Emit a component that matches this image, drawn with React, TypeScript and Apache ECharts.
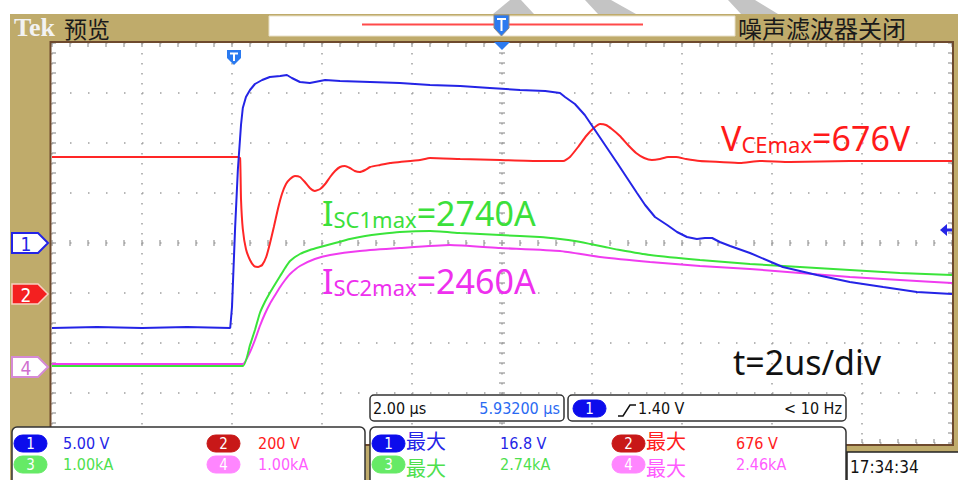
import React, { useEffect, useRef } from "react";
import * as echarts from "echarts";

// ---- data (time in µs, 2 µs/div; values in channel units) ----
const ch1Time = [0, 1, 2, 3, 3.96, 4.0, 4.07, 4.13, 4.2, 4.24, 4.31, 4.4, 4.51, 4.67, 4.84, 5.07, 5.22, 5.33, 5.51, 5.73, 6.07, 6.4, 7.07, 7.73, 8.4, 9.07, 9.73, 10.4, 10.96, 11.29, 11.4, 11.62, 11.84, 12.02, 12.29, 12.56, 12.78, 13.0, 13.18, 13.4, 13.67, 13.89, 14.11, 14.33, 14.51, 14.67, 14.84, 15.07, 15.51, 16.24, 17.0, 17.73, 18.47, 19.22, 20];
const ch1Volts = [-8.5, -8.4, -8.5, -8.4, -8.5, -6.4, 1.6, 7.3, 11.8, 13.5, 14.6, 15.3, 15.9, 16.3, 16.6, 16.7, 16.8, 16.5, 16.1, 16.0, 16.3, 16.2, 16.1, 16.0, 15.8, 15.7, 15.5, 15.3, 15.2, 15.0, 14.6, 13.9, 12.8, 11.6, 9.8, 8.0, 6.5, 5.0, 3.8, 2.6, 1.8, 1.1, 0.6, 0.4, 0.5, 0.5, 0.1, -0.3, -1.0, -2.4, -3.2, -3.9, -4.4, -4.9, -5.1];

const ch2Time = [0, 2, 4.13, 4.18, 4.2, 4.24, 4.31, 4.4, 4.49, 4.58, 4.67, 4.76, 4.84, 4.93, 5.02, 5.11, 5.2, 5.29, 5.4, 5.51, 5.62, 5.73, 5.84, 5.96, 6.07, 6.18, 6.29, 6.4, 6.51, 6.62, 6.73, 6.84, 6.96, 7.07, 7.29, 7.51, 7.73, 8.18, 8.4, 9.07, 9.96, 10.84, 11.36, 11.51, 11.69, 11.87, 12.04, 12.18, 12.31, 12.44, 12.62, 12.8, 12.98, 13.16, 13.33, 13.51, 13.69, 13.87, 14.09, 14.4, 14.84, 15.29, 15.73, 16.4, 17.73, 18.84, 20];
const ch2Volts = [544, 544, 544, 540, 376, 256, 176, 132, 108, 104, 112, 144, 196, 264, 336, 396, 436, 456, 468, 464, 444, 420, 408, 416, 436, 464, 488, 504, 508, 500, 488, 484, 492, 504, 512, 520, 524, 532, 540, 536, 532, 528, 528, 544, 584, 628, 660, 676, 672, 656, 628, 592, 560, 540, 532, 536, 544, 544, 536, 528, 524, 520, 528, 524, 528, 528, 528];

const ch3Time = [0, 2, 4.24, 4.4, 4.51, 4.62, 4.73, 4.84, 4.96, 5.07, 5.18, 5.29, 5.51, 5.73, 5.96, 6.29, 6.62, 6.96, 7.29, 7.73, 8.4, 9.07, 9.96, 10.84, 11.29, 11.62, 11.96, 12.29, 12.62, 13.29, 14.4, 15.51, 16.62, 17.73, 18.84, 20];
const ch3KiloAmps = [0.04, 0.04, 0.04, 0.46, 0.76, 1.1, 1.32, 1.5, 1.68, 1.84, 2.0, 2.14, 2.28, 2.36, 2.42, 2.5, 2.58, 2.64, 2.68, 2.72, 2.74, 2.7, 2.66, 2.62, 2.58, 2.54, 2.48, 2.42, 2.36, 2.26, 2.16, 2.08, 2.02, 1.96, 1.9, 1.86];

const ch4Time = [0, 2, 4.24, 4.4, 4.51, 4.62, 4.73, 4.84, 4.96, 5.07, 5.18, 5.29, 5.51, 5.84, 6.18, 6.84, 7.73, 8.84, 9.96, 11.29, 12.18, 13.29, 14.4, 15.51, 16.62, 17.73, 18.84, 20];
const ch4KiloAmps = [0.08, 0.08, 0.08, 0.32, 0.56, 0.84, 1.08, 1.28, 1.46, 1.62, 1.76, 1.88, 2.04, 2.18, 2.26, 2.34, 2.4, 2.46, 2.4, 2.34, 2.22, 2.12, 2.04, 1.98, 1.9, 1.82, 1.76, 1.7];

const scaleLabels = ["5.00 V", "200 V", "1.00kA", "1.00kA"];
const maxLabels = ["16.8 V", "676 V", "2.74kA", "2.46kA"];
const timeBase = "2.00 µs";
const triggerPos = "5.93200 µs";
const triggerLevel = "1.40 V";
const triggerFreq = "< 10 Hz";
const clock = "17:34:34";

const BLUE = "#2424e6";
const RED = "#ff2626";
const GREEN = "#3ae43a";
const PINK = "#f03cf0";
const TAN = "#bfab6b";
const COND = '"DejaVu Sans Condensed", "DejaVu Sans", sans-serif';
const CJK = '"Noto Sans CJK SC", sans-serif';
const ANN = '"Noto Sans", sans-serif';

const pairs = (t: number[], v: number[]) => t.map((x, i) => [x, v[i]]);

function pill(x: number, y: number, label: string, fill: string, color = "#fff") {
  return [
    { type: "rect", z: 100, shape: { x, y, width: 33, height: 17, r: 8.5 }, style: { fill, stroke: fill } },
    { type: "text", z: 101, style: { x: x + 16.5, y: y + 9, text: label, fill: color, font: `15px ${COND}`, align: "center", verticalAlign: "middle", lineHeight: 16 } },
  ];
}
function txt(x: number, y: number, text: string, fill: string, font: string, align = "left", lineHeight?: number) {
  const style: any = { x, y, text, fill, font, align, verticalAlign: "middle" };
  if (lineHeight) style.lineHeight = lineHeight;
  return { type: "text", z: 101, style };
}
function ann(x: number, y: number, main: string, sub: string, rest: string, fill: string) {
  return {
    type: "text", z: 90,
    style: {
      x, y, text: `{a|${main}}{b|${sub}}{a|${rest}}`, verticalAlign: "middle",
      rich: {
        a: { fontSize: 34, fontFamily: ANN, fill, verticalAlign: "bottom" },
        b: { fontSize: 22, fontFamily: ANN, fill, verticalAlign: "bottom" },
      },
    },
  };
}

export default function App() {
  const ref = useRef<HTMLDivElement>(null);
  useEffect(() => {
    const chart = echarts.init(ref.current!, null, { renderer: "svg" });
    const graphics: any[] = [
      // watermark stripes
      { type: "polygon", z: -5, shape: { points: [[510, 0], [521, 0], [534, 14], [493, 14]] }, style: { fill: "#c4c4c4" } },
      { type: "polygon", z: -5, shape: { points: [[585, 0], [611, 0], [636, 14], [598, 14]] }, style: { fill: "#c4c4c4" } },
      { type: "polygon", z: -5, shape: { points: [[728, 0], [755, 0], [778, 14], [741, 14]] }, style: { fill: "#c4c4c4" } },
      // tan frame
      { type: "rect", z: -5, shape: { x: 10, y: 14, width: 948, height: 466 }, style: { fill: TAN } },
      // plot background
      { type: "rect", z: -4, shape: { x: 51, y: 42, width: 902, height: 404 }, style: { fill: "#fff" } },
      // top bar
      { type: "text", z: 101, style: { x: 14, y: 27, text: "Tek", fill: "#f2f2f2", font: `bold 26px "Liberation Serif", serif`, verticalAlign: "middle" } },
      txt(64, 28, "预览", "#1a1a1a", `23px ${CJK}`),
      { type: "rect", z: 20, shape: { x: 269, y: 16, width: 466, height: 20 }, style: { fill: "#fff", stroke: "#e8e0c8", lineWidth: 1 } },
      { type: "line", z: 21, shape: { x1: 362, y1: 24.5, x2: 643, y2: 24.5 }, style: { stroke: "#ff4a4a", lineWidth: 2 } },
      { type: "polygon", z: 22, shape: { points: [[494, 15], [509, 15], [509, 28], [501.5, 36], [494, 28]] }, style: { fill: "#2a7af0", stroke: "#888", lineWidth: 1 } },
      { type: "line", z: 23, shape: { x1: 497, y1: 19, x2: 506, y2: 19 }, style: { stroke: "#fff", lineWidth: 2 } },
      { type: "line", z: 23, shape: { x1: 501.5, y1: 19, x2: 501.5, y2: 31 }, style: { stroke: "#fff", lineWidth: 2 } },
      txt(738, 27, "噪声滤波器关闭", "#1a1a1a", `24px ${CJK}`),
      // plot border
      { type: "rect", z: 50, shape: { x: 50.5, y: 42, width: 902.5, height: 403 }, style: { fill: "none", stroke: "#6e4a2e", lineWidth: 2 } },
      // trigger markers
      { type: "polygon", z: 60, shape: { points: [[494, 42], [510, 42], [502, 50]] }, style: { fill: "#2a7af0" } },
      { type: "polygon", z: 60, shape: { points: [[227, 50], [241, 50], [241, 58], [234, 65], [227, 58]] }, style: { fill: "#2a7af0" } },
      { type: "line", z: 61, shape: { x1: 230, y1: 53.5, x2: 238, y2: 53.5 }, style: { stroke: "#fff", lineWidth: 2 } },
      { type: "line", z: 61, shape: { x1: 234, y1: 53.5, x2: 234, y2: 61 }, style: { stroke: "#fff", lineWidth: 2 } },
      { type: "polygon", z: 60, shape: { points: [[940, 230], [947, 224], [947, 236]] }, style: { fill: BLUE } },
      { type: "line", z: 60, shape: { x1: 946, y1: 230, x2: 952, y2: 230 }, style: { stroke: BLUE, lineWidth: 3 } },
      // left channel markers
      { type: "polygon", z: 60, shape: { points: [[12, 233], [38, 233], [48, 243], [38, 253], [12, 253]] }, style: { fill: "#fff", stroke: BLUE, lineWidth: 2 } },
      txt(26, 243.5, "1", BLUE, `19px ${COND}`, "center"),
      { type: "polygon", z: 60, shape: { points: [[12, 284], [38, 284], [48, 294], [38, 304], [12, 304]] }, style: { fill: "#f42020", stroke: "#f8d0c0", lineWidth: 1.5 } },
      txt(26, 294.5, "2", "#fff", `19px ${COND}`, "center"),
      { type: "polygon", z: 60, shape: { points: [[12, 357], [38, 357], [48, 367], [38, 377], [12, 377]] }, style: { fill: "#fff", stroke: "#d58ad5", lineWidth: 2 } },
      txt(26, 367.5, "4", "#d070d0", `19px ${COND}`, "center"),
      // annotations
      ann(721, 138, "V", "CEmax", "=676V", "#ff1a1a"),
      ann(322, 213, "I", "SC1max", "=2740A", "#3be03b"),
      ann(322, 281, "I", "SC2max", "=2460A", "#ee30ee"),
      txt(733, 362, "t=2us/div", "#111", `34px ${ANN}`),
      // bottom-left panel
      { type: "rect", z: 99, shape: { x: 12, y: 427, width: 353, height: 62, r: 5 }, style: { fill: "#fff", stroke: "#333", lineWidth: 1.5 } },
      ...pill(14, 435, "1", "#0c0cec"),
      txt(63, 443.5, scaleLabels[0], BLUE, `16px ${COND}`, "left", 18),
      ...pill(207, 435, "2", "#c81818"),
      txt(258, 443.5, scaleLabels[1], "#ff2020", `16px ${COND}`, "left", 18),
      ...pill(14, 456, "3", "#66ea66"),
      txt(63, 464.5, scaleLabels[2], "#4ee04e", `16px ${COND}`, "left", 18),
      ...pill(207, 456, "4", "#ff86ff"),
      txt(258, 464.5, scaleLabels[3], "#ff5cff", `16px ${COND}`, "left", 18),
      // time base boxes
      { type: "rect", z: 99, shape: { x: 370, y: 395, width: 194, height: 26, r: 4 }, style: { fill: "#fff", stroke: "#333", lineWidth: 1.5 } },
      txt(373, 408.5, timeBase, "#111", `16px ${COND}`),
      txt(560, 408.5, triggerPos, "#2a6af2", `16px ${COND}`, "right"),
      { type: "rect", z: 99, shape: { x: 568, y: 395, width: 278, height: 26, r: 4 }, style: { fill: "#fff", stroke: "#333", lineWidth: 1.5 } },
      ...pill(573, 400, "1", "#0c0cec"),
      { type: "polyline", z: 101, shape: { points: [[618, 416], [623, 416], [630, 405], [636, 405]] }, style: { stroke: "#111", lineWidth: 1.5, fill: "none" } },
      txt(638, 408.5, triggerLevel, "#111", `16px ${COND}`),
      txt(842, 408.5, triggerFreq, "#111", `16px ${COND}`, "right"),
      // measurement panel
      { type: "rect", z: 99, shape: { x: 370, y: 427, width: 476, height: 62, r: 5 }, style: { fill: "#fff", stroke: "#333", lineWidth: 1.5 } },
      ...pill(372, 435, "1", "#0c0cec"),
      txt(406, 440, "最大", BLUE, `20px ${CJK}`, "left", 20),
      txt(500, 443.5, maxLabels[0], BLUE, `16px ${COND}`, "left", 18),
      ...pill(612, 435, "2", "#c81818"),
      txt(646, 440, "最大", "#ff2020", `20px ${CJK}`, "left", 20),
      txt(736, 443.5, maxLabels[1], "#ff2020", `16px ${COND}`, "left", 18),
      ...pill(372, 456, "3", "#66ea66"),
      txt(406, 467, "最大", "#4ee04e", `20px ${CJK}`, "left", 20),
      txt(500, 464.5, maxLabels[2], "#4ee04e", `16px ${COND}`, "left", 18),
      ...pill(612, 456, "4", "#ff86ff"),
      txt(646, 467, "最大", "#ff5cff", `20px ${CJK}`, "left", 20),
      txt(736, 464.5, maxLabels[3], "#ff5cff", `16px ${COND}`, "left", 18),
      // clock box
      { type: "rect", z: 99, shape: { x: 847, y: 452, width: 115, height: 35 }, style: { fill: "#fff", stroke: "#222", lineWidth: 1.5 } },
      txt(850, 467, clock, "#111", `17px ${COND}`),
    ];

    chart.setOption({
      animation: false,
      backgroundColor: "#fff",
      grid: { left: 52, top: 43, width: 900, height: 400, show: false },
      xAxis: [
        {
          type: "value", min: 0, max: 20, interval: 2,
          axisLine: { show: false }, axisTick: { show: false }, axisLabel: { show: false },
          splitLine: { show: true, lineStyle: { color: "#a0a0a0", width: 1.5, type: [1.5, 8.5] } },
        },
      ],
      yAxis: [
        {
          type: "value", min: -4, max: 4, interval: 1,
          axisLine: { show: false }, axisTick: { show: false }, axisLabel: { show: false },
          splitLine: { show: true, lineStyle: { color: "#a0a0a0", width: 1.5, type: [1.5, 16.5] } },
        },
        { type: "value", min: -20, max: 20, show: false, splitLine: { show: false } },
        { type: "value", min: -600, max: 1000, show: false, splitLine: { show: false } },
        { type: "value", min: -1.5, max: 6.5, show: false, splitLine: { show: false } },
      ],
      graphic: { elements: graphics },
      series: [
        {
          type: "custom", xAxisIndex: 0, yAxisIndex: 0, silent: true, clip: false, z: 3,
          data: [[0, 0]],
          renderItem: (_p: any, api: any) => {
            const children: any[] = [];
            const seg = (x1: number, y1: number, x2: number, y2: number) =>
              children.push({ type: "line", shape: { x1, y1, x2, y2 }, style: { stroke: "#a0a0a0", lineWidth: 1.3 } });
            for (let i = 0; i <= 50; i++) {
              const t = i * 0.4;
              const top = api.coord([t, 4]);
              const bot = api.coord([t, -4]);
              const mid = api.coord([t, 0]);
              seg(top[0], top[1], top[0], top[1] + 4);
              seg(bot[0], bot[1], bot[0], bot[1] - 4);
              seg(mid[0], mid[1] - 3, mid[0], mid[1] + 3);
            }
            for (let j = 0; j <= 40; j++) {
              const v = -4 + j * 0.2;
              const l = api.coord([0, v]);
              const r = api.coord([20, v]);
              const c = api.coord([10, v]);
              seg(l[0], l[1], l[0] + 4, l[1]);
              seg(r[0] - 4, r[1], r[0], r[1]);
              seg(c[0] - 3, c[1], c[0] + 3, c[1]);
            }
            return { type: "group", children };
          },
        },
        { type: "line", name: "CH2", yAxisIndex: 2, showSymbol: false, smooth: 0.15, data: pairs(ch2Time, ch2Volts), lineStyle: { color: RED, width: 2 }, itemStyle: { color: RED }, z: 4 },
        { type: "line", name: "CH4", yAxisIndex: 3, showSymbol: false, smooth: 0.15, data: pairs(ch4Time, ch4KiloAmps), lineStyle: { color: PINK, width: 2 }, itemStyle: { color: PINK }, z: 5 },
        { type: "line", name: "CH3", yAxisIndex: 3, showSymbol: false, smooth: 0.15, data: pairs(ch3Time, ch3KiloAmps), lineStyle: { color: GREEN, width: 2 }, itemStyle: { color: GREEN }, z: 6 },
        { type: "line", name: "CH1", yAxisIndex: 1, showSymbol: false, data: pairs(ch1Time, ch1Volts), lineStyle: { color: BLUE, width: 2 }, itemStyle: { color: BLUE }, z: 7 },
      ],
    });
    return () => chart.dispose();
  }, []);
  return <div ref={ref} style={{ position: "fixed", left: 0, top: 0, width: 958, height: 480 }} />;
}
